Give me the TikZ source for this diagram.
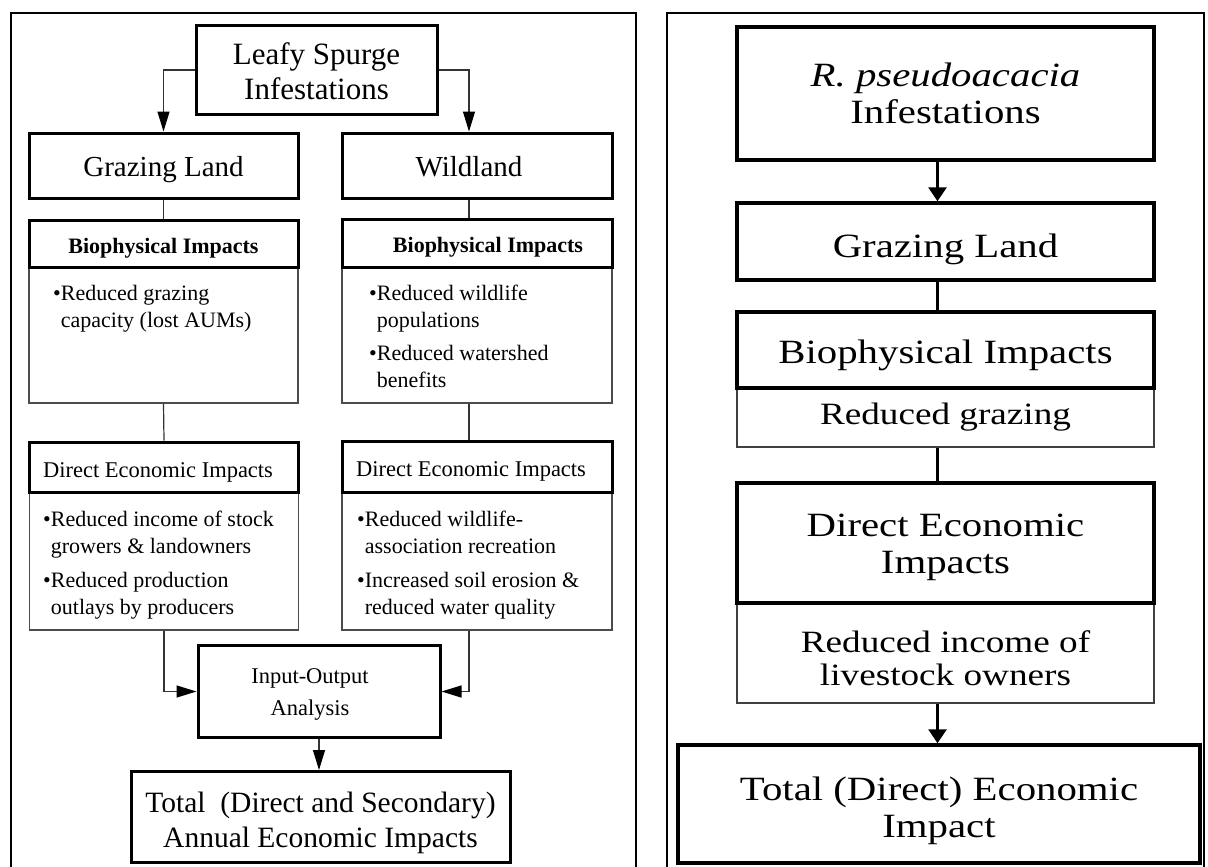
\documentclass[tikz,border=0pt]{standalone}
\usepackage{fontspec}
\setmainfont{Liberation Serif}
\newfontfamily\widefont[FakeStretch=1.2]{Liberation Serif}
\usetikzlibrary{arrows.meta}
\begin{document}
\begin{tikzpicture}[x=1pt,y=-1pt,
  frame/.style={draw, line width=2pt},
  hbox/.style={draw, line width=3pt, inner sep=0pt, align=center, fill=white},
  bbox/.style={draw=black!70, line width=1.2pt, inner sep=0pt, fill=white},
  rhbox/.style={draw, line width=3.5pt, inner sep=0pt, align=center, fill=white, minimum width=417pt},
  rbbox/.style={draw=black!75, line width=1.5pt, inner sep=0pt, align=center, fill=white, minimum width=417pt},
  btext/.style={anchor=north west, inner sep=0pt, align=left, font=\fontsize{22}{27}\selectfont},
  lconn/.style={draw=black!80, line width=1.2pt},
  larrow/.style={lconn, -{Triangle[length=20pt,width=12pt,color=black]}},
  rconn/.style={line width=3pt},
  rarrow/.style={rconn, -{Triangle[length=14pt,width=18pt]}},
  rhead/.style={font=\widefont\fontsize{34}{37}\selectfont},
  rbody/.style={font=\widefont\fontsize{31}{33}\selectfont},
]
\useasboundingbox (0,0) rectangle (1208,867);
\fill[white] (0,0) rectangle (1208,867);

% frames
\draw[frame] (11,13) rectangle (636,890);
\draw[frame] (667,13) rectangle (1204,890);

% ---------- left panel ----------
\node[hbox, minimum width=241pt, minimum height=89pt, font=\fontsize{31}{35}\selectfont] (top) at (316.5,70) {\rule{0pt}{25pt}Leafy Spurge\\Infestations};
\node[hbox, minimum width=269pt, minimum height=65pt, text height=22pt, text depth=0pt, font=\fontsize{29}{33}\selectfont] (grazL) at (163.5,165.5) {Grazing Land};
\node[hbox, minimum width=270pt, minimum height=65pt, text height=22pt, text depth=0pt, font=\fontsize{29}{33}\selectfont] (wildL) at (477,165.5) {Wildland\rule{16pt}{0pt}};

\node[bbox, minimum width=269pt, minimum height=136pt] (bioBL) at (163.5,335) {};
\node[bbox, minimum width=270pt, minimum height=136pt] (bioBR) at (477,335) {};
\node[hbox, minimum width=269pt, minimum height=47pt, text height=19pt, text depth=0pt, font=\bfseries\fontsize{22}{26}\selectfont] (bioHL) at (163.5,243.5) {Biophysical Impacts};
\node[hbox, minimum width=270pt, minimum height=48pt, text height=19pt, text depth=0pt, font=\bfseries\fontsize{22}{26}\selectfont] (bioHR) at (477,243) {\rule{22pt}{0pt}Biophysical Impacts};

\node[bbox, minimum width=269pt, minimum height=138pt] (dirBL) at (164,561) {};
\node[bbox, minimum width=270pt, minimum height=138pt] (dirBR) at (477,561) {};
\node[hbox, minimum width=269pt, minimum height=50pt, text height=20pt, text depth=0pt, font=\fontsize{22.5}{26}\selectfont] (dirHL) at (164,467) {Direct Economic Impacts\rule{12pt}{0pt}};
\node[hbox, minimum width=270pt, minimum height=51pt, text height=20pt, text depth=0pt, font=\fontsize{22.5}{26}\selectfont] (dirHR) at (477,466.5) {Direct Economic Impacts\rule{12pt}{0pt}};

\node[btext] (bgL1) at (53,285) {•Reduced grazing\\\hphantom{•}capacity (lost AUMs)};
\node[btext] (bwR1) at (369,285) {•Reduced wildlife\\\hphantom{•}populations};
\node[btext] (bwR2) at (369,345) {•Reduced watershed\\\hphantom{•}benefits};
\node[btext] (deL1) at (43,511) {•Reduced income of stock\\\hphantom{•}growers \& landowners};
\node[btext] (deL2) at (43,572) {•Reduced production\\\hphantom{•}outlays by producers};
\node[btext] (deR1) at (357,511) {•Reduced wildlife-\\\hphantom{•}association recreation};
\node[btext] (deR2) at (357,572) {•Increased soil erosion \&\\\hphantom{•}reduced water quality};

\node[hbox, minimum width=242pt, minimum height=92pt, font=\fontsize{22.5}{32}\selectfont] (io) at (319,691.5) {\rule{0pt}{20pt}Input-Output\rule{18pt}{0pt}\\Analysis\rule{18pt}{0pt}};
\node[hbox, minimum width=379pt, minimum height=91pt, font=\fontsize{29.5}{35}\selectfont] (total) at (320.5,817) {\rule{0pt}{33pt}Total\ \ (Direct and Secondary)\\Annual Economic Impacts};

\draw[larrow] (top.west) -| (grazL.north);
\draw[larrow] (top.east) -| ([xshift=-8pt]wildL.north);
\draw[lconn] (grazL.south) -- (bioHL.north);
\draw[lconn] ([xshift=-8pt]wildL.south) -- ([xshift=-8pt]bioHR.north);
\draw[lconn] (bioBL.south) -- (dirHL.north);
\draw[lconn] ([xshift=-8pt]bioBR.south) -- ([xshift=-8pt]dirHR.north);
\draw[larrow] (dirBL.south) |- (io.west);
\draw[larrow] ([xshift=-8pt]dirBR.south) |- (io.east);
\draw[larrow] (io.south) -- (io.south |- total.north);

% ---------- right panel ----------
\node[rhbox, minimum height=133pt, rhead] (rtop) at (945.5,93.5) {{\itshape R. pseudoacacia}\\Infestations};
\node[rhbox, minimum height=77pt, text height=31pt, text depth=0pt, rhead] (rgraz) at (945.5,241.5) {Grazing Land};
\node[rbbox, minimum height=59pt, rbody] (rbioB) at (945.5,417.5) {Reduced grazing};
\node[rhbox, minimum height=76pt, text height=26pt, text depth=0pt, rhead] (rbioH) at (945.5,350) {Biophysical Impacts};
\node[rbbox, minimum height=100pt, rbody] (rdirB) at (945.5,653) {\rule{0pt}{33pt}Reduced income of\\livestock owners};
\node[rhbox, minimum height=120pt, rhead] (rdirH) at (945.5,543) {\rule{0pt}{31pt}Direct Economic\\Impacts};
\node[rhbox, minimum width=522pt, minimum height=118pt, rhead] (rtotal) at (939,804) {\rule{0pt}{37pt}Total (Direct) Economic\\Impact};

\draw[rarrow] ([xshift=-8pt]rtop.south) -- ([xshift=-8pt]rgraz.north);
\draw[rconn] ([xshift=-8pt]rgraz.south) -- ([xshift=-8pt]rbioH.north);
\draw[rconn] ([xshift=-8pt]rbioB.south) -- ([xshift=-8pt]rdirH.north);
\draw[rarrow] ([xshift=-8pt]rdirB.south) -- ([xshift=-8pt]rdirB.south |- rtotal.north);
\end{tikzpicture}
\end{document}
